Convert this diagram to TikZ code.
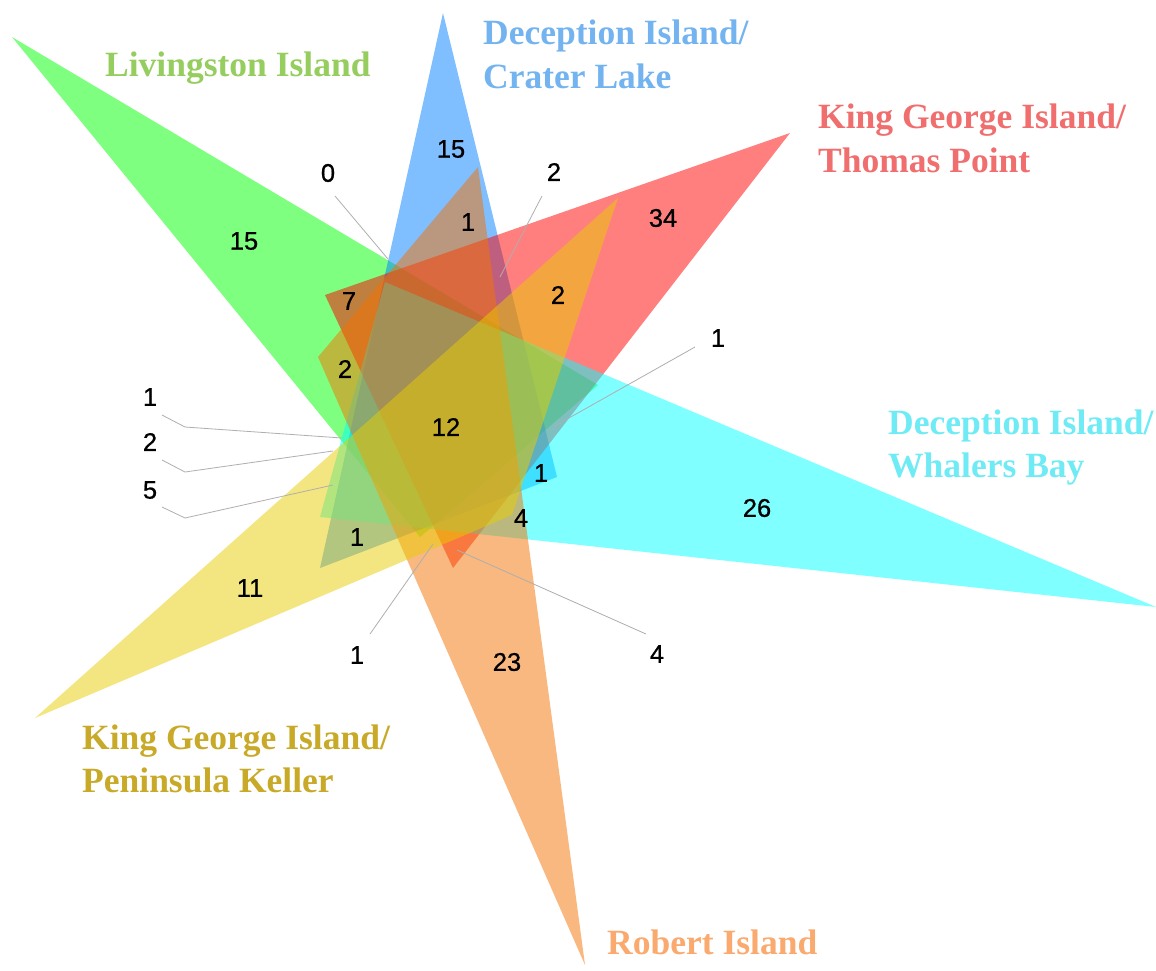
\documentclass[tikz,border=0pt]{standalone}
\usepackage{fontspec}
\setmainfont{Liberation Serif}
\newfontfamily\numfont[FakeBold=0.8]{Liberation Sans}
\definecolor{cgreen}{RGB}{0,255,0}
\definecolor{cblue}{RGB}{0,128,255}
\definecolor{cred}{RGB}{255,0,0}
\definecolor{ccyan}{RGB}{0,255,255}
\definecolor{corange}{RGB}{245,115,0}
\definecolor{cyellow}{RGB}{232,205,0}
\definecolor{tgreen}{RGB}{150,205,95}
\definecolor{tblue}{RGB}{115,180,240}
\definecolor{tred}{RGB}{240,110,110}
\definecolor{tcyan}{RGB}{110,235,245}
\definecolor{tyellow}{RGB}{200,170,40}
\definecolor{torange}{RGB}{250,170,110}
\definecolor{leadgray}{RGB}{175,175,175}
\tikzset{
  tri/.style={fill opacity=0.5},
  lbl/.style={anchor=base west, inner sep=0pt, font=\bfseries\fontsize{35.5}{44}\selectfont},
  num/.style={inner sep=0pt, font=\numfont\fontsize{25.5}{30}\selectfont, text=black},
  leader/.style={draw=leadgray, line width=0.8pt}
}
\begin{document}
\begin{tikzpicture}[x=1pt,y=-1pt]
\useasboundingbox (0,0) rectangle (1156,970);
\fill[white] (0,0) rectangle (1156,970);
% triangles
\fill[cgreen,tri]  (12,37) -- (598,385) -- (420,537) -- cycle;
\fill[cblue,tri]   (443,13) -- (557,477) -- (320,568) -- cycle;
\fill[cred,tri]    (790,133) -- (325,295) -- (453,568) -- cycle;
\fill[ccyan,tri]   (1156,607) -- (385,282) -- (320,517) -- cycle;
\fill[corange,tri] (585,965) -- (478,167) -- (318,357) -- cycle;
\fill[cyellow,tri] (35,718) -- (618,198) -- (512,515) -- cycle;
% set labels
\node[lbl,text=tgreen] (liv) at (105,76) {Livingston Island};
\node[lbl,text=tblue] (cl1) at (483,44) {Deception Island/};
\node[lbl,text=tblue] (cl2) at (483,88) {Crater Lake};
\node[lbl,text=tred] (tp1) at (818,128) {King George Island/};
\node[lbl,text=tred] (tp2) at (818,172) {Thomas Point};
\node[lbl,text=tcyan] (wb1) at (888,434) {Deception Island/};
\node[lbl,text=tcyan] (wb2) at (888,477) {Whalers Bay};
\node[lbl,text=tyellow] (pk1) at (82,749) {King George Island/};
\node[lbl,text=tyellow] (pk2) at (82,792) {Peninsula Keller};
\node[lbl,text=torange] (ri) at (607,954) {Robert Island};
% numbers
\node[num] (g15) at (244,241) {15};
\node[num] (b15) at (451,149) {15};
\node[num] (z0) at (328,173) {0};
\node[num] (bo1) at (468,222) {1};
\node[num] (t2) at (554,172) {2};
\node[num] (r34) at (663,218) {34};
\node[num] (n7) at (349,301) {7};
\node[num] (ry2) at (558,295) {2};
\node[num] (go2) at (345,369) {2};
\node[num] (r1) at (718,338) {1};
\node[num] (c12) at (446,427) {12};
\node[num] (l1) at (150,397) {1};
\node[num] (l2) at (150,442) {2};
\node[num] (l5) at (150,490) {5};
\node[num] (bc1) at (541,473) {1};
\node[num] (c26) at (757,508) {26};
\node[num] (m4) at (521,518) {4};
\node[num] (by1) at (357,537) {1};
\node[num] (y11) at (250,588) {11};
\node[num] (bt1) at (357,655) {1};
\node[num] (br4) at (657,654) {4};
\node[num] (o23) at (507,662) {23};
% leader lines
\coordinate (z0a) at (335,196);   \coordinate (z0b) at (388,259);
\coordinate (t2a) at (542,196);   \coordinate (t2b) at (500,277);
\coordinate (r1a) at (695,347);   \coordinate (r1b) at (553,427);
\coordinate (l1a) at (162,415);   \coordinate (l1k) at (185,427); \coordinate (l1b) at (342,438);
\coordinate (l2a) at (162,460);   \coordinate (l2k) at (185,472); \coordinate (l2b) at (333,451);
\coordinate (l5a) at (162,507);   \coordinate (l5k) at (185,518); \coordinate (l5b) at (333,485);
\coordinate (bt1a) at (370,634);  \coordinate (bt1b) at (433,544);
\coordinate (br4a) at (646,634);  \coordinate (br4b) at (457,550);
\draw[leader] (z0a) -- (z0b);
\draw[leader] (t2a) -- (t2b);
\draw[leader] (r1a) -- (r1b);
\draw[leader] (l1a) -- (l1k) -- (l1b);
\draw[leader] (l2a) -- (l2k) -- (l2b);
\draw[leader] (l5a) -- (l5k) -- (l5b);
\draw[leader] (bt1a) -- (bt1b);
\draw[leader] (br4a) -- (br4b);
\end{tikzpicture}
\end{document}
